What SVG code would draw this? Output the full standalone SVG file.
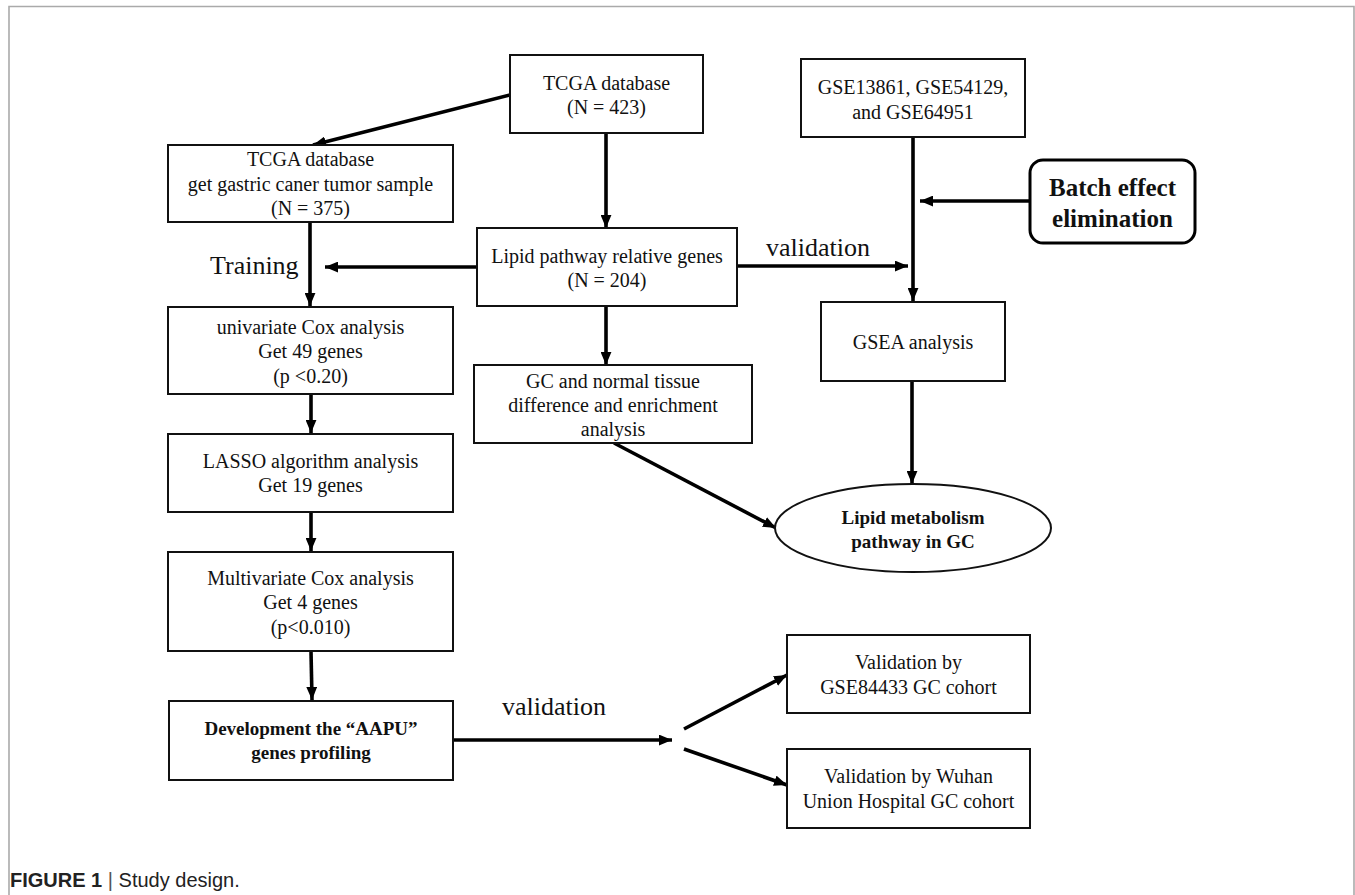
<svg xmlns="http://www.w3.org/2000/svg" width="1355" height="895" viewBox="0 0 1355 895">
<defs>
<marker id="ah" viewBox="0 0 12 10" refX="12" refY="5" markerWidth="13" markerHeight="11" markerUnits="userSpaceOnUse" orient="auto">
<path d="M0,0 L12,5 L0,10 Z" fill="#000"/>
</marker>
<style>
.box{fill:#fff;stroke:#111;stroke-width:2}
.t{font-family:"Liberation Serif","Times New Roman",serif;font-size:20px;fill:#111;text-anchor:middle}
.b{font-weight:bold}
.lbl{font-family:"Liberation Serif","Times New Roman",serif;font-size:26px;fill:#111}
.c{stroke:#000;stroke-width:3.6;fill:none;marker-end:url(#ah)}
.frame{stroke:#aaa;stroke-width:1.6;fill:none}
</style>
</defs>
<rect width="1355" height="895" fill="#fff"/>
<path class="frame" d="M9,895 V6.5 H1354 V895"/>

<g id="connectors">
<line class="c" x1="510" y1="95" x2="313" y2="145"/>
<line class="c" x1="606" y1="133" x2="606" y2="228"/>
<line class="c" x1="310" y1="222" x2="310" y2="306"/>
<line class="c" x1="477" y1="267" x2="325" y2="267"/>
<line class="c" x1="737" y1="266" x2="908" y2="266"/>
<line class="c" x1="913" y1="137" x2="913" y2="301"/>
<line class="c" x1="1030" y1="201" x2="920" y2="201"/>
<line class="c" x1="606" y1="306" x2="606" y2="365"/>
<line class="c" x1="311" y1="394" x2="311" y2="433"/>
<line class="c" x1="311" y1="512" x2="311" y2="551"/>
<line class="c" x1="311" y1="651" x2="312" y2="700"/>
<line class="c" x1="912" y1="381" x2="912" y2="484"/>
<line class="c" x1="614" y1="443" x2="776" y2="528"/>
<line class="c" x1="453" y1="740" x2="672" y2="740"/>
<line class="c" x1="684" y1="729" x2="787" y2="675"/>
<line class="c" x1="684" y1="749" x2="787" y2="785"/>
</g>

<g id="n-tcga">
<rect class="box" x="510" y="55" width="193" height="78"/>
<text class="t" x="606.5" y="90">TCGA database</text>
<text class="t" x="606.5" y="114">(N = 423)</text>
</g>
<g id="n-gse">
<rect class="box" x="801" y="59" width="224" height="78"/>
<text class="t" x="913" y="94">GSE13861, GSE54129,</text>
<text class="t" x="913" y="119">and GSE64951</text>
</g>
<g id="n-tumor">
<rect class="box" x="168" y="145" width="285" height="77"/>
<text class="t" x="310.5" y="166">TCGA database</text>
<text class="t" x="310.5" y="191">get gastric caner tumor sample</text>
<text class="t" x="310.5" y="215">(N = 375)</text>
</g>
<g id="n-batch">
<rect x="1030" y="160" width="165" height="83" rx="13" fill="#fff" stroke="#000" stroke-width="3"/>
<text class="t b" x="1112.5" y="196" style="font-size:25px">Batch effect</text>
<text class="t b" x="1112.5" y="227" style="font-size:25px">elimination</text>
</g>
<g id="n-lipid">
<rect class="box" x="477" y="228" width="260" height="78"/>
<text class="t" x="607" y="263">Lipid pathway relative genes</text>
<text class="t" x="607" y="287">(N = 204)</text>
</g>
<text class="lbl" x="210" y="274">Training</text>
<text class="lbl" x="766" y="256">validation</text>
<g id="n-gsea">
<rect class="box" x="821" y="302" width="184" height="79"/>
<text class="t" x="913" y="349">GSEA analysis</text>
</g>
<g id="n-uni">
<rect class="box" x="168" y="307" width="285" height="87"/>
<text class="t" x="310.5" y="334">univariate Cox analysis</text>
<text class="t" x="310.5" y="358">Get 49 genes</text>
<text class="t" x="310.5" y="383">(p &lt;0.20)</text>
</g>
<g id="n-gc">
<rect class="box" x="474" y="365" width="278" height="78"/>
<text class="t" x="613" y="388">GC and normal tissue</text>
<text class="t" x="613" y="412">difference and enrichment</text>
<text class="t" x="613" y="436">analysis</text>
</g>
<g id="n-lasso">
<rect class="box" x="168" y="434" width="285" height="78"/>
<text class="t" x="310.5" y="468">LASSO algorithm analysis</text>
<text class="t" x="310.5" y="492">Get 19 genes</text>
</g>
<g id="n-pathway">
<ellipse cx="913" cy="528" rx="138" ry="44" fill="#fff" stroke="#111" stroke-width="2"/>
<text class="t b" x="913" y="524" style="font-size:19px">Lipid metabolism</text>
<text class="t b" x="913" y="548" style="font-size:19px">pathway in GC</text>
</g>
<g id="n-multi">
<rect class="box" x="168" y="552" width="285" height="99"/>
<text class="t" x="310.5" y="585">Multivariate Cox analysis</text>
<text class="t" x="310.5" y="609">Get 4 genes</text>
<text class="t" x="310.5" y="634">(p&lt;0.010)</text>
</g>
<g id="n-dev">
<rect class="box" x="169" y="701" width="284" height="79"/>
<text class="t b" x="311" y="735" style="font-size:19px">Development the “AAPU”</text>
<text class="t b" x="311" y="759" style="font-size:19px">genes profiling</text>
</g>
<text class="lbl" x="502" y="715">validation</text>
<g id="n-val1">
<rect class="box" x="787" y="635" width="243" height="78"/>
<text class="t" x="908.5" y="669">Validation by</text>
<text class="t" x="908.5" y="694">GSE84433 GC cohort</text>
</g>
<g id="n-val2">
<rect class="box" x="787" y="749" width="243" height="79"/>
<text class="t" x="908.5" y="783">Validation by Wuhan</text>
<text class="t" x="908.5" y="808">Union Hospital GC cohort</text>
</g>

<text x="10" y="887" font-family="'Liberation Sans',Arial,sans-serif" font-size="20" fill="#222"><tspan font-weight="bold">FIGURE 1</tspan><tspan fill="#555"> | </tspan>Study design.</text>
</svg>
